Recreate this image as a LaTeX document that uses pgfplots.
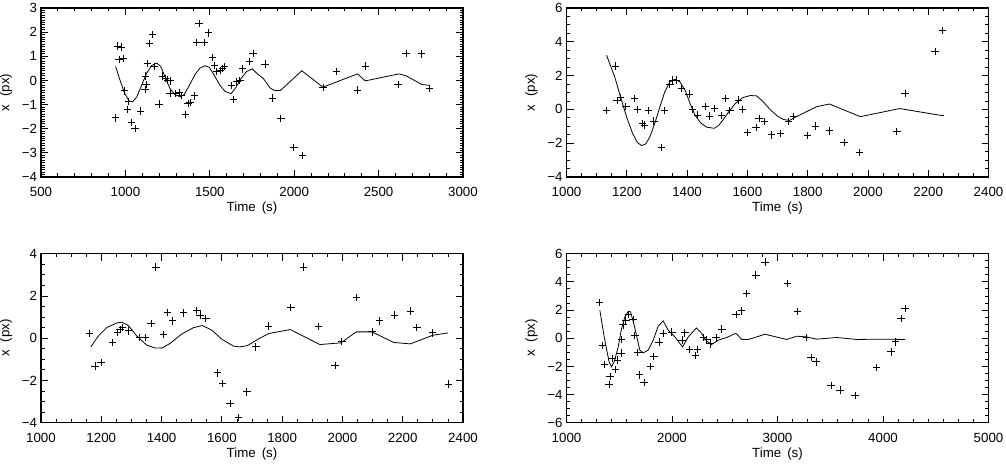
\documentclass[border=0pt]{standalone}
\usepackage{fontspec}
\setmainfont{Liberation Sans}
\usepackage{pgfplots}
\pgfplotsset{compat=1.18}
\pgfplotsset{
  myax/.style={
    scale only axis, width=422pt, height=169pt,
    axis line style={line width=1.1pt},
    every tick/.style={line width=0.8pt, black},
    major tick length=7pt, minor tick length=3.5pt,
    tick align=inside, xtick pos=both, ytick pos=both,
    tick label style={font=\fontsize{13.3}{15}\selectfont},
    label style={font=\fontsize{13.3}{15}\selectfont},
    xticklabel style={yshift=-6.5pt},
    yticklabel style={xshift=-0.5pt},
    xlabel={Time\hspace{0.45em}(s)},
    ylabel={x\hspace{0.6em}(px)},
    xlabel style={at={(axis description cs:0.5,-0.186)}, anchor=center},
    ylabel style={at={(axis description cs:-0.083,0.5)}, anchor=center},
    clip=true,
  },
  pts/.style={only marks, mark=+, mark size=3.7pt, black, mark options={line width=0.85pt}},
  mdl/.style={no marks, black, line width=0.8pt, sharp plot},
}
\begin{document}
\begin{tikzpicture}
\useasboundingbox (0pt,0pt) rectangle (1006pt,468pt);
% Panel 1
\begin{axis}[myax, at={(41pt,291pt)}, anchor=south west,
  xmin=500, xmax=3000, ymin=-4, ymax=3,
  xtick={500,1000,1500,2000,2500,3000}, xticklabels={500,1000,1500,2000,2500,3000},
  ytick={-4,-3,-2,-1,0,1,2,3}, yticklabels={−4,−3,−2,−1,0,1,2,3},
  minor x tick num=4, minor y tick num=9]
\addplot[pts] coordinates {
(942,-1.55)(952,1.42)(974,1.38)(962,0.86)(986,0.92)(994,-0.43)(1011,-1.2)(1017,-0.88)
(1035,-1.75)(1058,-2.0)(1088,-1.27)(1116,-0.37)(1122,-0.17)(1120,0.18)(1130,0.70)(1144,1.54)
(1160,1.89)(1170,0.58)(1200,-0.98)(1219,0.18)(1237,0.08)(1251,0.02)(1268,-0.02)(1264,-0.52)
(1294,-0.55)(1319,-0.49)(1331,-0.62)(1357,-1.42)(1371,-0.95)(1383,-0.92)(1408,-0.64)(1422,1.56)
(1466,1.56)(1436,2.36)(1491,1.97)(1517,0.95)(1529,0.62)(1541,0.38)(1565,0.40)(1577,0.50)
(1586,0.57)(1628,-0.21)(1641,-0.78)(1660,-0.06)(1678,0.0)(1693,0.48)(1736,0.78)(1756,1.12)
(1827,0.68)(1870,-0.73)(1921,-1.57)(1998,-2.78)(2049,-3.12)(2171,-0.30)(2249,0.38)(2375,-0.40)
(2424,0.60)(2616,-0.17)(2662,1.12)(2754,1.10)(2800,-0.33)};
\addplot[mdl] coordinates {
(942,0.58)(968,0.01)(994,-0.51)(1023,-0.86)(1043,-0.88)(1067,-0.69)(1096,-0.2)(1126,0.30)
(1156,0.62)(1185,0.72)(1209,0.58)(1234,0.16)(1264,-0.34)(1294,-0.59)(1324,-0.68)(1348,-0.59)
(1379,-0.20)(1413,0.25)(1442,0.51)(1472,0.61)(1497,0.54)(1525,0.23)(1560,-0.20)(1590,-0.45)
(1626,-0.55)(1653,-0.31)(1683,0.06)(1718,0.37)(1752,0.48)(1778,0.30)(1817,0.08)(1857,-0.31)
(1881,-0.41)(1918,-0.42)(2045,0.40)(2170,-0.28)(2375,0.27)(2421,-0.02)(2620,0.27)(2660,0.2)
(2757,-0.17)(2800,-0.2)};
\end{axis}
% Panel 2
\begin{axis}[myax, at={(566.5pt,291pt)}, anchor=south west,
  xmin=1000, xmax=2400, ymin=-4, ymax=6,
  xtick={1000,1200,1400,1600,1800,2000,2200,2400}, xticklabels={1000,1200,1400,1600,1800,2000,2200,2400},
  ytick={-4,-2,0,2,4,6}, yticklabels={−4,−2,0,2,4,6},
  minor x tick num=3, minor y tick num=3]
\addplot[pts] coordinates {
(1133,-0.05)(1163,2.57)(1168,0.51)(1179,0.69)(1197,0.16)(1226,0.65)(1235,0.0)(1252,-0.82)
(1259,-0.92)(1272,-0.08)(1290,-0.69)(1315,-2.25)(1326,-0.08)(1343,1.49)(1352,1.73)(1363,1.73)
(1382,1.24)(1407,0.9)(1418,-0.02)(1435,-0.33)(1461,0.16)(1474,-0.39)(1490,0.06)(1515,-0.37)
(1528,0.65)(1542,-0.08)(1570,0.55)(1584,-0.02)(1600,-1.37)(1629,-1.08)(1639,-0.53)(1656,-0.73)
(1681,-1.51)(1710,-1.41)(1736,-0.73)(1753,-0.43)(1800,-1.55)(1827,-0.98)(1872,-1.27)(1921,-1.96)
(1972,-2.55)(2096,-1.31)(2123,0.94)(2223,3.43)(2247,4.67)};
\addplot[mdl] coordinates {
(1133,3.2)(1160,1.92)(1179,0.75)(1199,-0.43)(1219,-1.41)(1235,-1.96)(1249,-2.14)(1263,-2.04)
(1277,-1.61)(1293,-0.82)(1310,0.16)(1326,1.04)(1343,1.63)(1360,1.78)(1376,1.63)(1393,1.14)
(1410,0.35)(1426,-0.33)(1445,-0.80)(1465,-1.05)(1490,-1.12)(1505,-0.95)(1520,-0.6)(1540,-0.1)
(1560,0.35)(1585,0.7)(1610,0.82)(1630,0.80)(1650,0.5)(1675,0.0)(1700,-0.4)(1720,-0.6)
(1740,-0.65)(1760,-0.45)(1830,0.16)(1872,0.32)(1975,-0.43)(2105,0.05)(2240,-0.35)(2252,-0.37)};
\end{axis}
% Panel 3
\begin{axis}[myax, at={(41pt,45.3pt)}, anchor=south west,
  xmin=1000, xmax=2400, ymin=-4, ymax=4,
  xtick={1000,1200,1400,1600,1800,2000,2200,2400}, xticklabels={1000,1200,1400,1600,1800,2000,2200,2400},
  ytick={-4,-2,0,2,4}, yticklabels={−4,−2,0,2,4},
  minor x tick num=3, minor y tick num=3]
\addplot[pts] coordinates {
(1160,0.22)(1179,-1.32)(1199,-1.15)(1238,-0.2)(1253,0.28)(1262,0.41)(1271,0.50)(1290,0.35)
(1326,0.02)(1347,0.03)(1365,0.69)(1381,3.37)(1406,0.17)(1420,1.23)(1436,0.82)(1473,1.20)
(1517,1.32)(1528,1.09)(1547,0.93)(1585,-1.64)(1602,-2.14)(1627,-3.09)(1655,-3.76)(1683,-2.54)
(1713,-0.41)(1755,0.58)(1829,1.46)(1871,3.37)(1921,0.54)(1976,-1.28)(1998,-0.17)(2046,1.92)
(2098,0.30)(2123,0.82)(2173,1.09)(2225,1.28)(2247,0.50)(2299,0.25)(2352,-2.17)};
\addplot[mdl] coordinates {
(1165,-0.41)(1190,0.1)(1218,0.5)(1251,0.72)(1268,0.76)(1290,0.6)(1318,0.1)(1351,-0.33)
(1378,-0.46)(1401,-0.47)(1428,-0.25)(1467,0.2)(1506,0.5)(1535,0.6)(1567,0.38)(1600,-0.05)
(1639,-0.38)(1660,-0.41)(1685,-0.35)(1720,-0.05)(1755,0.22)(1827,0.41)(1925,-0.3)(1995,-0.22)
(2046,0.3)(2098,0.3)(2170,-0.2)(2225,-0.27)(2300,0.14)(2350,0.25)};
\end{axis}
% Panel 4
\begin{axis}[myax, at={(566.5pt,45.3pt)}, anchor=south west,
  xmin=1000, xmax=5000, ymin=-6, ymax=6,
  xtick={1000,2000,3000,4000,5000}, xticklabels={1000,2000,3000,4000,5000},
  ytick={-6,-4,-2,0,2,4,6}, yticklabels={−6,−4,−2,0,2,4,6},
  minor x tick num=6, minor y tick num=3]
\addplot[pts] coordinates {
(1313,2.53)(1340,-0.52)(1360,-1.86)(1403,-3.27)(1414,-2.74)(1438,-1.44)(1466,-2.24)(1482,-1.56)
(1517,-1.06)(1522,-0.08)(1535,0.95)(1563,1.28)(1590,1.7)(1630,1.3)(1648,0.19)(1676,-1.0)
(1692,-2.6)(1735,-3.13)(1797,-2.02)(1828,-1.28)(1876,-0.28)(1922,0.34)(1999,0.44)(2096,-0.14)
(2122,0.38)(2167,-0.82)(2222,-1.22)(2243,-0.79)(2297,0.05)(2330,-0.1)(2360,-0.4)(2417,0.02)
(2473,0.64)(2608,1.70)(2660,1.94)(2704,3.17)(2795,4.49)(2881,5.41)(3093,3.87)(3188,1.91)
(3276,0.05)(3318,-1.37)(3365,-1.68)(3507,-3.38)(3593,-3.69)(3735,-4.09)(3941,-2.1)(4077,-0.97)
(4121,-0.26)(4171,1.39)(4209,2.10)};
\addplot[mdl] coordinates {
(1316,1.98)(1364,-0.2)(1404,-1.68)(1427,-2.03)(1452,-1.68)(1490,-0.62)(1522,0.69)(1553,1.51)
(1585,1.91)(1607,1.87)(1638,1.04)(1670,-0.02)(1695,-0.85)(1727,-1.04)(1774,-0.85)(1822,-0.14)
(1869,0.85)(1916,1.23)(1964,0.57)(2027,0.09)(2100,-0.62)(2154,0.09)(2230,0.72)(2270,0.45)
(2328,-0.2)(2375,-0.45)(2438,-0.14)(2518,0.05)(2606,0.35)(2660,-0.09)(2723,-0.09)(2786,0.05)
(2881,0.28)(3087,-0.09)(3182,0.14)(3276,0.09)(3371,-0.07)(3561,0.05)(3751,-0.09)(3972,-0.07)
(4209,-0.09)};
\end{axis}
\end{tikzpicture}
\end{document}
